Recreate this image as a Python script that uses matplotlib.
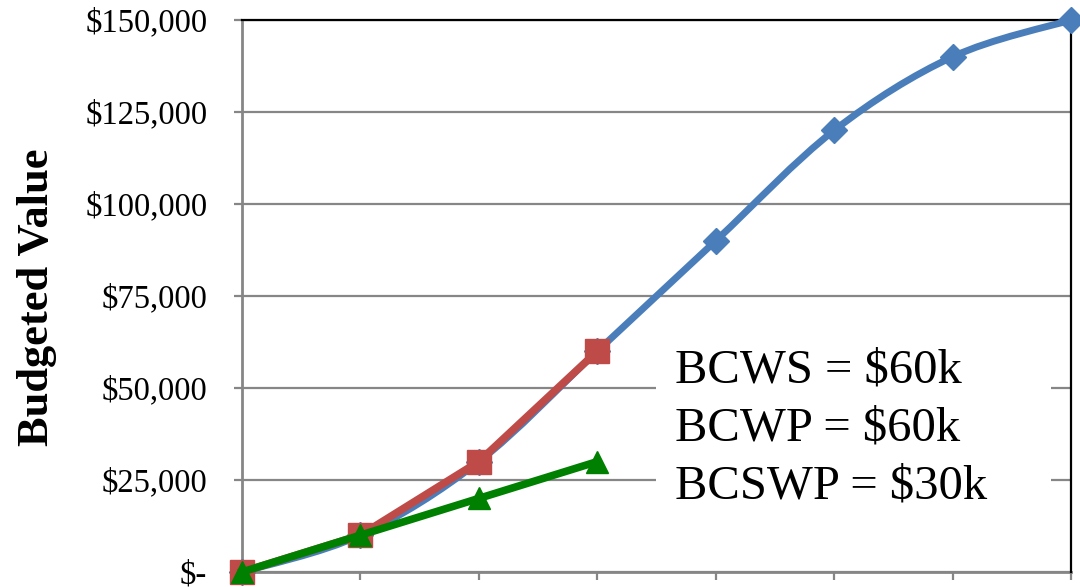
import numpy as np
import matplotlib
matplotlib.use("Agg")
import matplotlib.pyplot as plt
from matplotlib.path import Path
from matplotlib.patches import PathPatch, Rectangle
from matplotlib.ticker import FuncFormatter, MultipleLocator

# Reporting periods and budgeted values
periods = [0, 1, 2, 3, 4, 5, 6, 7]
bcws = [0, 10000, 30000, 60000, 90000, 120000, 140000, 150000]
bcwp_periods = [0, 1, 2, 3]
bcwp = [0, 10000, 30000, 60000]
bcswp_periods = [0, 1, 2, 3]
bcswp = [0, 10000, 20000, 30000]
summary_lines = ["BCWS = $60k", "BCWP = $60k", "BCSWP = $30k"]

BLUE = "#4a7ebb"
RED = "#be4b48"
GREEN = "#008000"
GRID = "#868686"

plt.rcParams["font.family"] = ["Liberation Serif", "DejaVu Serif"]

fig = plt.figure(figsize=(10.8, 5.87), dpi=100)
ax = fig.add_axes([242 / 1080, 1 - 572 / 587, (1071 - 242) / 1080, (572 - 20) / 587])

ax.set_xlim(0, 7)
ax.set_ylim(0, 150000)


def smooth_path(xs, ys):
    """Cubic Bezier path through the points (spreadsheet-style smoothing)."""
    pts = np.column_stack([xs, ys]).astype(float)
    n = len(pts)
    verts = [pts[0]]
    codes = [Path.MOVETO]
    for i in range(n - 1):
        p0 = pts[i - 1] if i > 0 else pts[i]
        p1 = pts[i]
        p2 = pts[i + 1]
        p3 = pts[i + 2] if i + 2 < n else pts[i + 1]
        c1 = p1 + (p2 - p0) / 6.0
        c2 = p2 - (p3 - p1) / 6.0
        verts += [c1, c2, p2]
        codes += [Path.CURVE4] * 3
    return Path(verts, codes)


# Planned value: smoothed line with diamond markers
curve = PathPatch(smooth_path(periods, bcws), facecolor="none", edgecolor=BLUE,
                  linewidth=5, zorder=3, clip_on=False, capstyle="round")
ax.add_patch(curve)
ax.plot(periods, bcws, linestyle="none", marker="D", markersize=13,
        color=BLUE, markeredgecolor=BLUE, zorder=4, clip_on=False)

# Earned value
ax.plot(bcwp_periods, bcwp, color=RED, linewidth=5.5, marker="s", markersize=17.5,
        markeredgecolor=RED, zorder=5, clip_on=False)

# Budgeted cost of scheduled work performed
ax.plot(bcswp_periods, bcswp, color=GREEN, linewidth=5.5, marker="^", markersize=16.5,
        markeredgecolor=GREEN, zorder=6, clip_on=False)

# Grid and axes styling
ax.yaxis.set_major_locator(MultipleLocator(25000))
ax.xaxis.set_major_locator(MultipleLocator(1))
ax.grid(axis="y", color=GRID, linewidth=1.6, zorder=0)
ax.set_axisbelow(True)
for side in ("left", "bottom"):
    ax.spines[side].set_color(GRID)
    ax.spines[side].set_linewidth(2)
    ax.spines[side].set_zorder(2)
for side in ("top", "right"):
    ax.spines[side].set_color("black")
    ax.spines[side].set_linewidth(1.6)

ax.tick_params(axis="x", direction="out", length=6, width=1.6, color=GRID,
               labelbottom=False)
ax.tick_params(axis="y", direction="out", length=6, width=1.6, color=GRID,
               labelsize=23.5, pad=19)


def money(v, _pos):
    if v == 0:
        return "$-"
    return "${:,.0f}".format(v)


ax.yaxis.set_major_formatter(FuncFormatter(money))

# White summary box over the grid
box = Rectangle((0.4994, 0.10), 0.4765, 0.35, transform=ax.transAxes,
                facecolor="white", edgecolor="none", zorder=1.5)
ax.add_patch(box)

baselines = [383, 441, 499]
for line, yb in zip(summary_lines, baselines):
    fig.text(675 / 1080, 1 - yb / 587, line, fontsize=35, ha="left",
             va="baseline", color="black", zorder=10)

fig.text(37 / 1080, 1 - 297 / 587, "Budgeted Value", rotation=90, fontsize=32,
         fontweight="bold", ha="center", va="center")

fig.savefig("out.png", dpi=100)
